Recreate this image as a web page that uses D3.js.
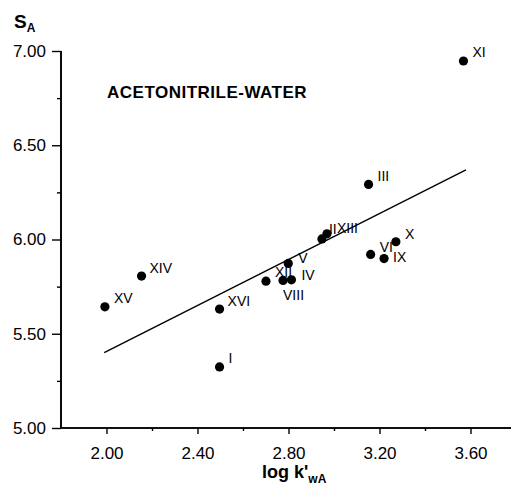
<!DOCTYPE html>
<html>
<head>
<meta charset="utf-8">
<script src="https://cdn.jsdelivr.net/npm/d3@7"></script>
<style>
  html, body { margin: 0; padding: 0; background: #fff; }
  svg { display: block; font-family: "Liberation Sans", Arial, Helvetica, sans-serif; }
</style>
</head>
<body>
<svg id="chart" width="511" height="488"></svg>
<script>
// ---- data ----
const labels  = ["I","II","III","IV","V","VI","VIII","IX","X","XI","XII","XIII","XIV","XV","XVI"];
const logKwA  = [2.497, 2.947, 3.152, 2.813, 2.799, 3.161, 2.776, 3.220, 3.272, 3.569, 2.701, 2.969, 2.154, 1.993, 2.497];
const SA      = [5.324, 6.003, 6.292, 5.786, 5.873, 5.921, 5.783, 5.899, 5.988, 6.947, 5.779, 6.030, 5.806, 5.643, 5.631];
const fitX    = [1.99, 3.58];
const fitY    = [5.40, 6.37];
const xTicks  = [2.0, 2.4, 2.8, 3.2, 3.6];
const xMinor  = [2.2, 2.6, 3.0, 3.4];
const yTicks  = [5.0, 5.5, 6.0, 6.5, 7.0];
const yMinor  = [5.25, 5.75, 6.25, 6.75];

// label placement (dx, dy from point) — styling only
const labelOffset = {
  "I":[9,-4],"II":[7,-5],"III":[9,-3],"IV":[10,0],"V":[10,0],"VI":[9,-2],
  "VIII":[0,20],"IX":[9,3],"X":[9,-3],"XI":[9,-4],"XII":[9,-4],"XIII":[10,-1],
  "XIV":[8,-3],"XV":[9,-4],"XVI":[8,-3]
};

const svg = d3.select("#chart");
const x = d3.scaleLinear().domain([1.8, 3.8]).range([61, 516]);
const y = d3.scaleLinear().domain([5.0, 7.0]).range([428, 51]);

// axes
const gx = svg.append("g").attr("transform", "translate(0,428)");
gx.call(d3.axisBottom(x).tickValues(xTicks).tickSize(6).tickPadding(13).tickFormat(d3.format(".2f")));
gx.append("g").call(d3.axisBottom(x).tickValues(xMinor).tickSize(3).tickFormat(""));
const gy = svg.append("g").attr("transform", "translate(61,0)");
gy.call(d3.axisLeft(y).tickValues(yTicks).tickSize(9).tickPadding(6).tickFormat(d3.format(".2f")));
gy.append("g").call(d3.axisLeft(y).tickValues(yMinor).tickSize(4).tickFormat(""));

svg.selectAll(".domain").attr("stroke", "#000").attr("stroke-width", 1.6);
svg.selectAll(".tick line").attr("stroke", "#000").attr("stroke-width", 1.4);
svg.selectAll(".tick text").attr("font-size", 17).attr("fill", "#000")
   .attr("font-family", "'Liberation Sans', Arial, sans-serif");
gx.selectAll(".domain").attr("d", `M${x.range()[0]},0H${x.range()[1]}`);
gy.selectAll(".domain").attr("d", `M0,${y.range()[0]}V${y.range()[1]}`);
gx.select("g").selectAll(".domain").remove();
gy.select("g").selectAll(".domain").remove();

// regression line
svg.append("line")
  .attr("x1", x(fitX[0])).attr("y1", y(fitY[0]))
  .attr("x2", x(fitX[1])).attr("y2", y(fitY[1]))
  .attr("stroke", "#000").attr("stroke-width", 1.4);

// points
const pts = labels.map((l, i) => ({ l, x: logKwA[i], y: SA[i] }));
svg.append("g").selectAll("circle").data(pts).join("circle")
  .attr("cx", d => x(d.x)).attr("cy", d => y(d.y)).attr("r", 4.6).attr("fill", "#000");

svg.append("g").selectAll("text").data(pts).join("text")
  .attr("x", d => x(d.x) + labelOffset[d.l][0])
  .attr("y", d => y(d.y) + labelOffset[d.l][1])
  .attr("font-size", 14).attr("fill", "#000")
  .text(d => d.l);

// title inside plot
svg.append("text").attr("x", 107).attr("y", 98)
  .attr("font-size", 17).attr("font-weight", "bold").attr("letter-spacing", 0.5)
  .text("ACETONITRILE-WATER");

// y axis title S_A
const yt = svg.append("text").attr("x", 14).attr("y", 28).attr("font-weight", "bold");
yt.append("tspan").attr("font-size", 19).text("S");
yt.append("tspan").attr("font-size", 12).attr("dy", 4).text("A");

// x axis title log k'wA
const xt = svg.append("text").attr("x", 262).attr("y", 478).attr("font-weight", "bold");
xt.append("tspan").attr("font-size", 18).text("log k'");
xt.append("tspan").attr("font-size", 12).attr("dy", 5).text("wA");
</script>
</body>
</html>
